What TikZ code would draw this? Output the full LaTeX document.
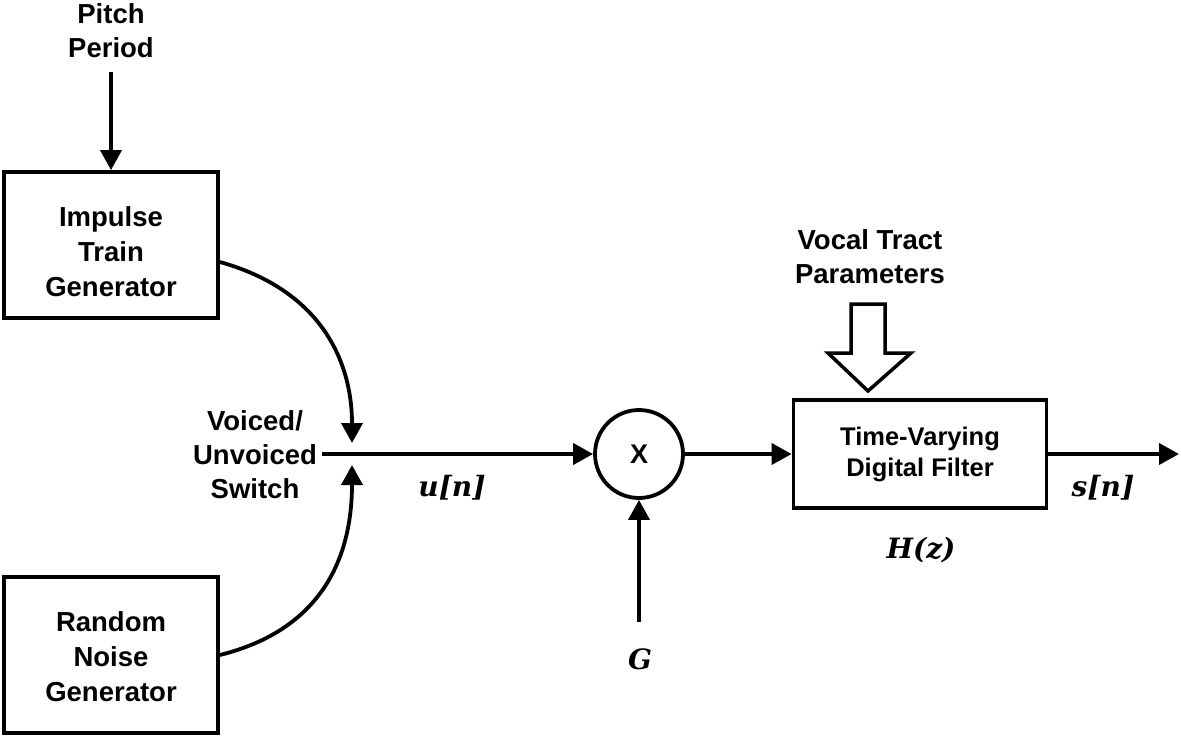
\documentclass[tikz,border=0pt]{standalone}
\usepackage{fontspec}
\setmainfont{Liberation Sans}
\newfontfamily\mathlike{DejaVu Serif}
\usetikzlibrary{arrows.meta}
\begin{document}
\begin{tikzpicture}[x=1pt,y=-1pt,
  lbl/.style={font=\fontsize{27.5}{34}\selectfont\bfseries, align=center, inner sep=0pt},
  sym/.style={font=\fontsize{28}{34}\selectfont\mathlike\bfseries\itshape, inner sep=0pt},
  blk/.style={draw, line width=3.8pt, rectangle, inner sep=0pt, align=center},
  conn/.style={line width=3.8pt, -{Triangle[length=20pt,width=21pt]}},
  wire/.style={line width=3.8pt}
]
\useasboundingbox (0,0) rectangle (1181,739);
% blocks
\node[blk, minimum width=214pt, minimum height=146pt] (imp) at (111,245) {};
\node[lbl, font=\fontsize{27.5}{35}\selectfont\bfseries] (impt) at (111,252) {Impulse\\Train\\Generator};
\node[blk, minimum width=214pt, minimum height=156pt] (noise) at (111,655) {};
\node[lbl, font=\fontsize{27.5}{35}\selectfont\bfseries] (noiset) at (111,657) {Random\\Noise\\Generator};
\node[draw, circle, line width=3.8pt, minimum size=88pt, inner sep=0pt, font=\fontsize{27}{27}\selectfont\bfseries] (mult) at (639,454) {X};
\node[blk, minimum width=253pt, minimum height=108pt, font=\fontsize{25.5}{31}\selectfont\bfseries] (filt) at (920,454) {Time-Varying\\Digital Filter};
% labels
\node[lbl] (pitch) at (111,31) {Pitch\\Period};
\node[lbl] (switch) at (255,455) {Voiced/\\Unvoiced\\Switch};
\node[lbl] (vocal) at (870,257) {Vocal Tract\\Parameters};
\node[sym] (un) at (452,488) {u[n]};
\node[sym] (G) at (640,659) {G};
\node[sym] (Hz) at (921,550) {H(z)};
\node[sym] (sn) at (1103,488) {s[n]};
% coordinates
\coordinate (pt) at (111,72);
\coordinate (sw) at (322,454);
\coordinate (jtop) at (352,443);
\coordinate (jbot) at (352,465);
\coordinate (gin) at (639,622);
\coordinate (out) at (1179,454);
% connectors
\draw[conn] (pt) -- (imp.north);
\draw[conn] (imp.east |- 0,262) .. controls (320,290) and (352,360) .. (jtop);
\draw[conn] (noise.east |- 0,655) .. controls (320,630) and (352,560) .. (jbot);
\draw[conn] (sw) -- (mult.west);
\draw[conn] (gin) -- (mult.south);
\draw[conn] (mult.east) -- (filt.west);
\draw[conn] (filt.east) -- (out);
% hollow arrow
\draw[line width=3.5pt, line join=miter] (851,304) -- (885,304) -- (885,353) -- (911,353) -- (868,391) -- (828,353) -- (851,353) -- cycle;
\end{tikzpicture}
\end{document}
